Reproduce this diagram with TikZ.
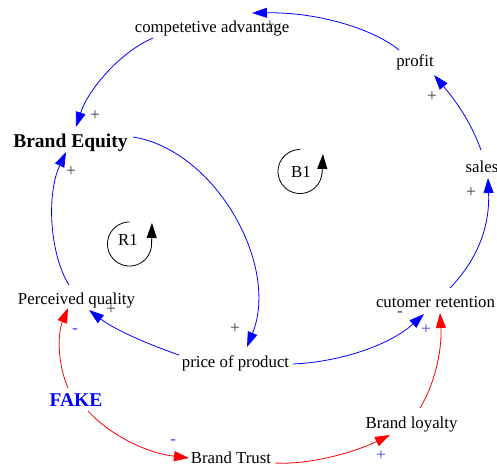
\documentclass[tikz,border=0pt]{standalone}
\usepackage{fontspec}
\setmainfont{Liberation Serif}
\usetikzlibrary{arrows.meta}
\begin{document}
\begin{tikzpicture}[x=1pt,y=-1pt,
  lbl/.style={font=\fontsize{16.8}{20}\selectfont, inner sep=0pt, anchor=base},
  bld/.style={font=\fontsize{19.5}{23}\selectfont\bfseries, inner sep=0pt, anchor=base},
  pol/.style={font=\fontsize{17.5}{20}\selectfont, inner sep=0pt, text=black!75},
  bpol/.style={font=\fontsize{17.5}{20}\selectfont, inner sep=0pt, text=blue!75},
  blink/.style={draw=blue, line width=0.8pt, -{Triangle[length=15pt,width=10pt]}},
  rlink/.style={draw=red, line width=0.8pt, -{Triangle[length=15pt,width=10pt]}},
  loopline/.style={draw=black, line width=0.8pt},
  looptip/.style={draw=black, line width=0.8pt, -{Triangle[length=15pt,width=10pt]}}]
\useasboundingbox (0,0) rectangle (497,469);
% nodes
\node[lbl] (comp) at (212,32) {competetive advantage};
\node[lbl] (profit) at (415,66) {profit};
\node[lbl] (sales) at (482,172) {sales};
\node[bld] (BE) at (70.5,147) {Brand Equity};
\node[lbl] (PQ) at (76.5,304) {Perceived quality};
\node[lbl] (price) at (235.5,367) {price of product};
\node[lbl] (CR) at (435.5,307) {cutomer retention};
\node[bld, text=blue] (FAKE) at (76,406) {FAKE};
\node[lbl] (BT) at (231,463) {Brand Trust};
\node[lbl] (BL) at (411.5,428) {Brand loyalty};
\node[lbl] (R1) at (128,245) {R1};
\node[lbl] (B1) at (301,177) {B1};
% links
\draw[blink] ([shift={(-16,-16)}]profit.base) .. controls (375,30) and (320,12) .. ([shift={(40,-19)}]comp.base);
\draw[blink] ([shift={(-59,6)}]comp.base) .. controls (120,52) and (88,90) .. ([shift={(5.5,-20)}]BE.base);
\draw[blink] ([shift={(-7.5,-19)}]PQ.base) .. controls (50,255) and (46,195) .. ([shift={(-4.5,5)}]BE.base);
\draw[blink] ([shift={(62.5,-10)}]BE.base) .. controls (215,150) and (280,265) .. ([shift={(11.5,-20)}]price.base);
\draw[blink] ([shift={(-56.5,-12)}]price.base) .. controls (150,345) and (115,330) .. ([shift={(12.5,6)}]PQ.base);
\draw[blink] ([shift={(57.5,-3)}]price.base) .. controls (340,362) and (390,345) .. ([shift={(-11.5,7)}]CR.base);
\draw[blink] ([shift={(14.5,-19)}]CR.base) .. controls (475,262) and (490,230) .. ([shift={(6,6)}]sales.base);
\draw[blink] ([shift={(-1,-22)}]sales.base) .. controls (470,120) and (455,100) .. ([shift={(19,9)}]profit.base);
\draw[rlink] ([shift={(-8,-18)}]FAKE.base) .. controls (58,365) and (57,335) .. ([shift={(-8.5,4)}]PQ.base);
\draw[rlink] ([shift={(12,5)}]FAKE.base) .. controls (105,430) and (140,452) .. ([shift={(-42,-5)}]BT.base);
\draw[rlink] ([shift={(44,0)}]BT.base) .. controls (310,465) and (355,452) .. ([shift={(-21.5,7)}]BL.base);
\draw[rlink] ([shift={(8.5,-20)}]BL.base) .. controls (437,380) and (442,345) .. ([shift={(4.5,6)}]CR.base);
% polarities
\node[pol] (p1) at (95,116) {+};
\node[pol] (p2) at (71,172) {+};
\node[pol] (p3) at (270,26) {+};
\node[pol] (p4) at (432,97) {+};
\node[pol] (p5) at (471,193) {+};
\node[pol] (p6) at (235,329) {+};
\node[pol] (p7) at (111,310) {+};
\node[pol] (p8) at (400,314) {-};
\node[bpol] (p9) at (426,330) {+};
\node[bpol] (p10) at (75,331) {-};
\node[bpol] (p11) at (173,442) {-};
\node[bpol] (p12) at (381,456) {+};
% loop symbols
\draw[loopline] plot[domain=90:355, samples=50, smooth] ({300+22*cos(\x)}, {171.5-22*sin(\x)});
\draw[looptip] (322,174) -- (323,154);
\draw[loopline] plot[domain=90:355, samples=50, smooth] ({129.5+22*cos(\x)}, {244-22*sin(\x)});
\draw[looptip] (151.5,247) -- (152,223);
\end{tikzpicture}
\end{document}
